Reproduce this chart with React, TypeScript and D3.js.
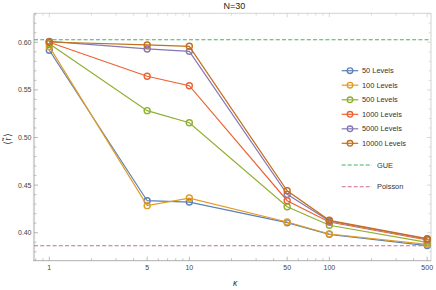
import React from "react";
import * as d3 from "d3";

const kappas = [1, 5, 10, 50, 100, 500];
const seriesNames = ["50 Levels", "100 Levels", "500 Levels", "1000 Levels", "5000 Levels", "10000 Levels"];
const levels50 = [0.5916, 0.4336, 0.4322, 0.4105, 0.3983, 0.3865];
const levels100 = [0.5954, 0.4284, 0.4364, 0.4112, 0.3986, 0.3878];
const levels500 = [0.5985, 0.5282, 0.5155, 0.4273, 0.4078, 0.3899];
const levels1000 = [0.6000, 0.5643, 0.5544, 0.4336, 0.4112, 0.3923];
const levels5000 = [0.6010, 0.5930, 0.5905, 0.4403, 0.4123, 0.3934];
const levels10000 = [0.6003, 0.5972, 0.5958, 0.4441, 0.4130, 0.3937];
const seriesValues = [levels50, levels100, levels500, levels1000, levels5000, levels10000];
const seriesColors = ["#5E81B5", "#E19C24", "#8FB032", "#EB6235", "#8778B3", "#C56E1A"];
const gueValue = 0.6027;
const poissonValue = 0.3863;
const xTickLabels = [1, 5, 10, 50, 100, 500];
const yTickLabels = [0.4, 0.45, 0.5, 0.55, 0.6];

export default function App() {
  const W = 436, H = 290;
  const left = 34, right = 431, top = 13.3, bottom = 260.7;
  const x = d3.scaleLog().domain([1, 500]).range([49.3, 427.2]);
  const y = d3.scaleLinear().domain([0.4, 0.6]).range([232.7, 42.3]);
  const xMin = x.invert(left), xMax = x.invert(right);
  const yMin = y.invert(bottom), yMax = y.invert(top);

  const xMinor: number[] = [];
  for (const dec of [0.1, 1, 10, 100]) {
    for (let m = 1; m <= 9; m++) {
      const v = m * dec;
      if (v >= xMin && v <= xMax && !xTickLabels.includes(+v.toFixed(6))) xMinor.push(v);
    }
  }
  const yMinor: number[] = [];
  for (let i = Math.ceil(yMin * 100); i <= Math.floor(yMax * 100); i++) {
    const v = i / 100;
    if (i % 5 !== 0) yMinor.push(v);
  }

  const line = d3.line<number>().x((_, i) => x(kappas[i])).y((d) => y(d));
  const font = "Liberation Sans, Arial, sans-serif";
  const frameColor = "#c8c8c8";
  const tickColor = "#999";
  const labelColor = "#444";

  const legendX1 = 341.7, legendX2 = 358.3, legendText = 362;
  const legendY = [70.7, 85.2, 99.8, 114.3, 128.8, 143.3];

  return (
    <svg width={W} height={H} style={{ position: "absolute", left: 0, top: 0, background: "#fff" }}>
      {/* frame */}
      <line x1={left} x2={right} y1={top} y2={top} stroke={frameColor} strokeWidth={0.8} />
      <line x1={right} x2={right} y1={top} y2={bottom} stroke={frameColor} strokeWidth={0.8} />
      <line x1={left} x2={left} y1={top} y2={bottom} stroke="#d4d4d4" strokeWidth={2.2} />
      <line x1={left - 1} x2={right} y1={bottom} y2={bottom} stroke="#999" strokeWidth={0.8} />

      {/* x ticks */}
      {xTickLabels.map((v) => (
        <g key={"xt" + v}>
          <line x1={x(v)} x2={x(v)} y1={bottom} y2={bottom - 4} stroke={tickColor} strokeWidth={0.7} />
          <line x1={x(v)} x2={x(v)} y1={top} y2={top + 4} stroke={frameColor} strokeWidth={0.7} />
          <text x={x(v)} y={bottom + 9.5} textAnchor="middle" fontSize={7} fontFamily={font} fill={labelColor}>{v}</text>
        </g>
      ))}
      {xMinor.map((v, i) => (
        <g key={"xm" + i}>
          <line x1={x(v)} x2={x(v)} y1={bottom} y2={bottom - 2.4} stroke={tickColor} strokeWidth={0.6} />
          <line x1={x(v)} x2={x(v)} y1={top} y2={top + 2.4} stroke={frameColor} strokeWidth={0.6} />
        </g>
      ))}

      {/* y ticks */}
      {yTickLabels.map((v) => (
        <g key={"yt" + v}>
          <line x1={left} x2={left + 4} y1={y(v)} y2={y(v)} stroke={tickColor} strokeWidth={0.7} />
          <line x1={right} x2={right - 4} y1={y(v)} y2={y(v)} stroke={frameColor} strokeWidth={0.7} />
          <text x={left - 2.5} y={y(v) + 2.5} textAnchor="end" fontSize={7} fontFamily={font} fill={labelColor}>{v.toFixed(2)}</text>
        </g>
      ))}
      {yMinor.map((v, i) => (
        <g key={"ym" + i}>
          <line x1={left} x2={left + 2.4} y1={y(v)} y2={y(v)} stroke={tickColor} strokeWidth={0.6} />
          <line x1={right} x2={right - 2.4} y1={y(v)} y2={y(v)} stroke={frameColor} strokeWidth={0.6} />
        </g>
      ))}

      {/* reference lines */}
      <line x1={left} x2={right} y1={y(gueValue)} y2={y(gueValue)} stroke="#3fb65c" strokeWidth={1.1} strokeDasharray="4,2.2" />
      <line x1={left} x2={right} y1={y(poissonValue)} y2={y(poissonValue)} stroke="#cc6a92" strokeWidth={1.1} strokeDasharray="4,2.2" />

      {/* series */}
      {seriesValues.map((vals, s) => (
        <g key={"s" + s}>
          <path d={line(vals) || ""} fill="none" stroke={seriesColors[s]} strokeWidth={1.2} />
          {vals.map((v, i) => (
            <circle key={i} cx={x(kappas[i])} cy={y(v)} r={3} fill="none" stroke={seriesColors[s]} strokeWidth={1.4} />
          ))}
        </g>
      ))}

      {/* legend */}
      {seriesNames.map((n, s) => (
        <g key={"l" + s}>
          <line x1={legendX1} x2={legendX2} y1={legendY[s]} y2={legendY[s]} stroke={seriesColors[s]} strokeWidth={1.2} />
          <circle cx={(legendX1 + legendX2) / 2} cy={legendY[s]} r={2.8} fill="none" stroke={seriesColors[s]} strokeWidth={1.3} />
          <text x={legendText} y={legendY[s] + 2.6} fontSize={7.4} fontFamily={font} fill="#333">{n}</text>
        </g>
      ))}
      <line x1={legendX1} x2={372} y1={165} y2={165} stroke="#3fb65c" strokeWidth={1.1} strokeDasharray="4,2" />
      <text x={377} y={167.6} fontSize={7.4} fontFamily={font} fill="#333">GUE</text>
      <line x1={legendX1} x2={372} y1={186.7} y2={186.7} stroke="#cc6a92" strokeWidth={1.1} strokeDasharray="4,2" />
      <text x={377} y={189.3} fontSize={7.4} fontFamily={font} fill="#333">Poisson</text>

      {/* titles */}
      <text x={234.5} y={9.3} textAnchor="middle" fontSize={9} fontFamily={font} fill="#222">N=30</text>
      <text x={235} y={285.5} textAnchor="middle" fontSize={8.5} fontStyle="italic" fontFamily={font} fill="#333">κ</text>
      <text transform="translate(11,139) rotate(-90)" textAnchor="middle" fontSize={9.5} fontFamily={font} fill="#333">⟨r̃⟩</text>
    </svg>
  );
}
